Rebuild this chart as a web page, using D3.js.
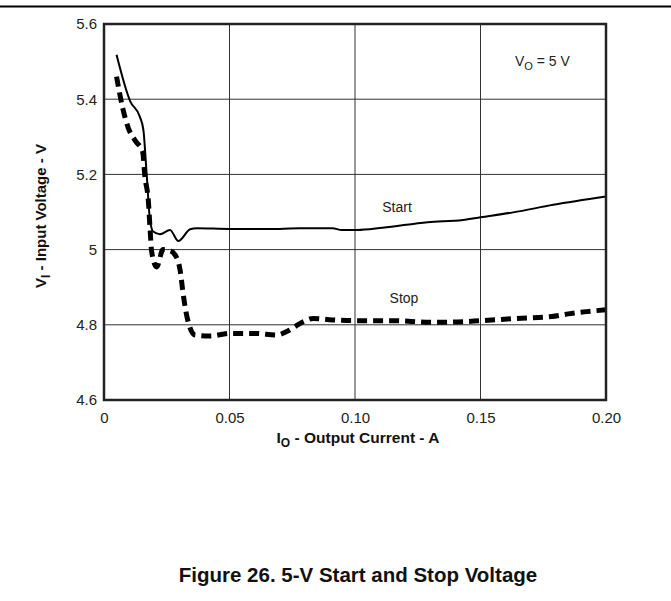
<!DOCTYPE html>
<html>
<head>
<meta charset="utf-8">
<script src="https://cdn.jsdelivr.net/npm/d3@7"></script>
<style>
  body { margin: 0; background: #fff; }
  svg { display: block; font-family: "Liberation Sans", Arial, sans-serif; }
</style>
</head>
<body>
<svg id="chart" width="671" height="601"></svg>
<script>
// Output current (A) / input voltage (V)
let startCurrent = [0.005, 0.0104, 0.0143, 0.0157, 0.017, 0.0183, 0.0196, 0.0223, 0.0263, 0.0296, 0.0343, 0.037, 0.05, 0.07, 0.078, 0.091, 0.0947, 0.1007, 0.111, 0.129, 0.143, 0.15, 0.163, 0.179, 0.2]
let startVoltage = [5.518, 5.395, 5.353, 5.318, 5.2, 5.08, 5.048, 5.041, 5.052, 5.023, 5.054, 5.057, 5.055, 5.055, 5.057, 5.057, 5.052, 5.052, 5.058, 5.073, 5.079, 5.086, 5.099, 5.119, 5.141]

let stopCurrent = [0.005, 0.0074, 0.0097, 0.0124, 0.0154, 0.0163, 0.0177, 0.0183, 0.019, 0.021, 0.0235, 0.0263, 0.0283, 0.0303, 0.0316, 0.0332, 0.0363, 0.0422, 0.05, 0.06, 0.069, 0.0728, 0.0794, 0.0834, 0.091, 0.1007, 0.115, 0.13, 0.1365, 0.1505, 0.1644, 0.1784, 0.185, 0.1923, 0.2]
let stopVoltage = [5.46, 5.378, 5.323, 5.29, 5.26, 5.194, 5.127, 5.061, 4.994, 4.954, 5.0, 4.997, 4.986, 4.946, 4.879, 4.817, 4.773, 4.770, 4.777, 4.777, 4.773, 4.782, 4.808, 4.817, 4.813, 4.811, 4.811, 4.807, 4.807, 4.811, 4.817, 4.822, 4.829, 4.835, 4.84]

let xTicks = [0, 0.05, 0.10, 0.15, 0.20]
let xTickLabels = ['0', '0.05', '0.10', '0.15', '0.20']
let yTicks = [4.6, 4.8, 5.0, 5.2, 5.4, 5.6]
let yTickLabels = ['4.6', '4.8', '5', '5.2', '5.4', '5.6']

let svg = d3.select('#chart')

let plotLeft = 104, plotRight = 606, plotTop = 24, plotBottom = 400

let xScale = d3.scaleLinear().domain([0, 0.2]).range([plotLeft, plotRight])
let yScale = d3.scaleLinear().domain([4.6, 5.6]).range([plotBottom, plotTop])

// rule across the top of the page
svg.append('line')
   .attr('x1', 0).attr('x2', 671)
   .attr('y1', 6.5).attr('y2', 6.5)
   .attr('stroke', '#000')
   .attr('stroke-width', 2)

// grid
svg.append('g')
   .selectAll('line')
   .data(xTicks.slice(1, -1))
   .enter()
   .append('line')
   .attr('x1', (d) => xScale(d)).attr('x2', (d) => xScale(d))
   .attr('y1', plotTop).attr('y2', plotBottom)
   .attr('stroke', '#333')
   .attr('stroke-width', 1)

svg.append('g')
   .selectAll('line')
   .data(yTicks.slice(1, -1))
   .enter()
   .append('line')
   .attr('x1', plotLeft).attr('x2', plotRight)
   .attr('y1', (d) => yScale(d)).attr('y2', (d) => yScale(d))
   .attr('stroke', '#333')
   .attr('stroke-width', 1)

// axes (labels only)
let xAxis = d3.axisBottom(xScale)
              .tickValues(xTicks)
              .tickSize(0)
              .tickPadding(12)
              .tickFormat((d, i) => xTickLabels[i])
svg.append('g')
   .attr('transform', 'translate(0,' + plotBottom + ')')
   .call(xAxis)
   .call((g) => g.select('.domain').remove())
   .selectAll('text')
   .attr('font-size', 15)
   .attr('font-family', '"Liberation Sans", Arial, sans-serif')
   .attr('fill', '#222')

let yAxis = d3.axisLeft(yScale)
              .tickValues(yTicks)
              .tickSize(0)
              .tickPadding(7)
              .tickFormat((d, i) => yTickLabels[i])
svg.append('g')
   .attr('transform', 'translate(' + plotLeft + ',0)')
   .call(yAxis)
   .call((g) => g.select('.domain').remove())
   .selectAll('text')
   .attr('font-size', 15)
   .attr('font-family', '"Liberation Sans", Arial, sans-serif')
   .attr('fill', '#222')

// curves
let line = d3.line()
             .x((d) => xScale(d[0]))
             .y((d) => yScale(d[1]))
             .curve(d3.curveMonotoneX)

let startPoints = startCurrent.map((c, i) => [c, startVoltage[i]])
let stopPoints = stopCurrent.map((c, i) => [c, stopVoltage[i]])

svg.append('path')
   .datum(stopPoints)
   .attr('d', line)
   .attr('fill', 'none')
   .attr('stroke', '#000')
   .attr('stroke-width', 5)
   .attr('stroke-dasharray', '10,6')

svg.append('path')
   .datum(startPoints)
   .attr('d', line)
   .attr('fill', 'none')
   .attr('stroke', '#000')
   .attr('stroke-width', 2)

// frame
svg.append('rect')
   .attr('x', plotLeft).attr('y', plotTop)
   .attr('width', plotRight - plotLeft).attr('height', plotBottom - plotTop)
   .attr('fill', 'none')
   .attr('stroke', '#222')
   .attr('stroke-width', 2.5)

// curve labels
svg.append('text').attr('x', 397).attr('y', 212).attr('text-anchor', 'middle')
   .attr('font-size', 14).attr('fill', '#222').text('Start')
svg.append('text').attr('x', 404).attr('y', 303).attr('text-anchor', 'middle')
   .attr('font-size', 14).attr('fill', '#222').text('Stop')

// VO = 5 V
let vo = svg.append('text').attr('x', 515).attr('y', 66).attr('font-size', 14).attr('fill', '#222')
vo.append('tspan').text('V')
vo.append('tspan').attr('font-size', 11).attr('dy', 4).text('O')
vo.append('tspan').attr('dy', -4).text(' = 5 V')

// axis titles
let xt = svg.append('text').attr('x', (plotLeft + plotRight) / 2 + 3).attr('y', 443)
            .attr('text-anchor', 'middle').attr('font-size', 15.5).attr('font-weight', 'bold').attr('fill', '#111')
xt.append('tspan').text('I')
xt.append('tspan').attr('font-size', 12).attr('dy', 4).text('O')
xt.append('tspan').attr('dy', -4).text(' - Output Current - A')

let yt = svg.append('text')
            .attr('transform', 'translate(46,' + ((plotTop + plotBottom) / 2 + 4) + ') rotate(-90)')
            .attr('text-anchor', 'middle').attr('font-size', 15).attr('font-weight', 'bold').attr('fill', '#111')
yt.append('tspan').text('V')
yt.append('tspan').attr('font-size', 12).attr('dy', 4).text('I')
yt.append('tspan').attr('dy', -4).text(' - Input Voltage - V')

// caption
svg.append('text').attr('x', 358).attr('y', 582).attr('text-anchor', 'middle')
   .attr('font-size', 20.5).attr('font-weight', 'bold').attr('fill', '#111')
   .text('Figure 26. 5-V Start and Stop Voltage')
</script>
</body>
</html>
